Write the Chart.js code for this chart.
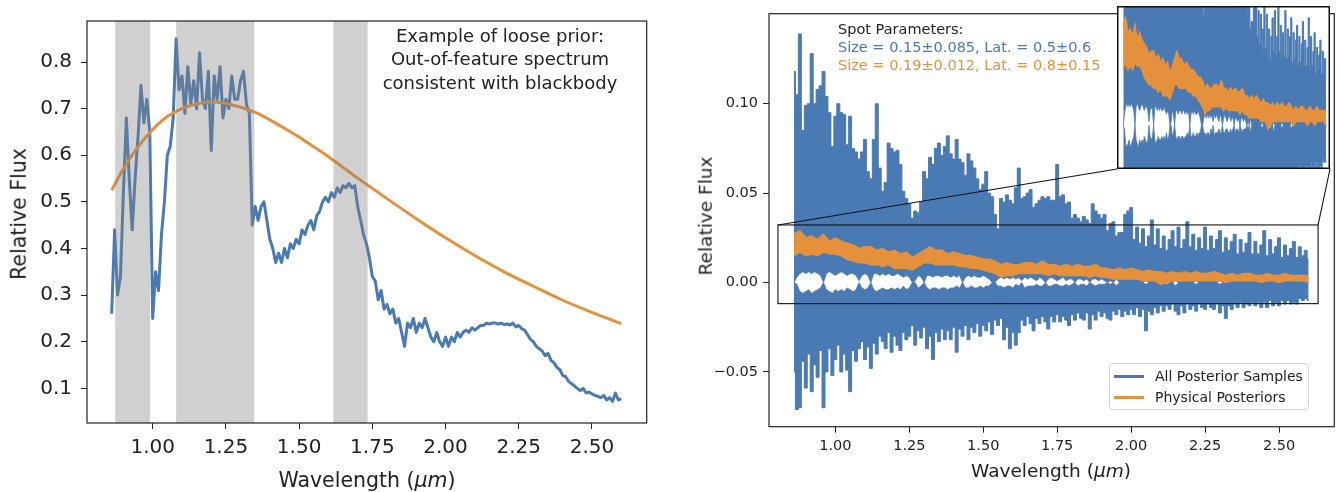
<!DOCTYPE html>
<html><head><meta charset="utf-8">
<script src="https://cdn.jsdelivr.net/npm/chart.js@4.4.1/dist/chart.umd.min.js"></script>
<style>
body{margin:0;background:#fff;width:1341px;height:492px;position:relative;overflow:hidden;font-family:'DejaVu Sans',sans-serif;color:#222}
canvas{position:absolute}
.t{position:absolute;white-space:nowrap;line-height:1}
.c{transform:translate(-50%,-50%)}
.l{transform:translateY(-50%)}
</style></head><body>
<canvas id="c1" width="670" height="492" style="left:0;top:0"></canvas>
<canvas id="c2" width="671" height="492" style="left:670px;top:0"></canvas>
<canvas id="c3" width="213" height="163" style="left:1117px;top:6px"></canvas>

<div class="t" style="left:19px;top:214px;font-size:20.5px;transform:translate(-50%,-50%) rotate(-90deg)">Relative Flux</div>
<div class="t c" style="left:367px;top:480px;font-size:20.5px">Wavelength (<span style="font-style:italic">μm</span>)</div>
<div class="t c" style="left:500px;top:36px;font-size:18px">Example of loose prior:</div>
<div class="t c" style="left:500px;top:59px;font-size:18px">Out-of-feature spectrum</div>
<div class="t c" style="left:500px;top:83px;font-size:18px">consistent with blackbody</div>

<div class="t" style="left:706px;top:216px;font-size:18.5px;transform:translate(-50%,-50%) rotate(-90deg)">Relative Flux</div>
<div class="t c" style="left:1051px;top:471px;font-size:18.5px">Wavelength (<span style="font-style:italic">μm</span>)</div>
<div class="t l" style="left:838px;top:29px;font-size:14.5px;color:#222">Spot Parameters:</div>
<div class="t l" style="left:838px;top:47px;font-size:14.5px;color:#4a7ab3">Size = 0.15±0.085, Lat. = 0.5±0.6</div>
<div class="t l" style="left:838px;top:64.5px;font-size:14.5px;color:#e5913b">Size = 0.19±0.012, Lat. = 0.8±0.15</div>

<div style="position:absolute;left:1109px;top:363px;width:200px;height:47px;border:1px solid #d4d4d4;border-radius:4px;background:rgba(255,255,255,0.85);box-sizing:border-box">
  <div style="position:absolute;left:4px;top:11px;width:30px;height:2.5px;background:#4a7ab3"></div>
  <div class="t l" style="left:45px;top:12px;font-size:14px">All Posterior Samples</div>
  <div style="position:absolute;left:4px;top:32px;width:30px;height:2.5px;background:#e5913b"></div>
  <div class="t l" style="left:45px;top:33px;font-size:14px">Physical Posteriors</div>
</div>

<script>
// ---------- shared wavelength grid (micron) ----------
const wavelengths = [
0.86,0.87,0.88,0.89,0.90,0.91,0.92,0.93,0.94,0.95,
0.96,0.97,0.98,0.99,1.00,1.01,1.02,1.03,1.04,1.05,
1.06,1.07,1.08,1.09,1.10,1.11,1.12,1.13,1.14,1.15,
1.16,1.17,1.18,1.19,1.20,1.21,1.22,1.23,1.24,1.25,
1.26,1.27,1.28,1.29,1.30,1.31,1.32,1.33,1.34,1.35,
1.36,1.37,1.38,1.39,1.40,1.41,1.42,1.43,1.44,1.45,
1.46,1.47,1.48,1.49,1.50,1.51,1.52,1.53,1.54,1.55,
1.56,1.57,1.58,1.59,1.60,1.61,1.62,1.63,1.64,1.65,
1.66,1.67,1.68,1.69,1.70,1.71,1.72,1.73,1.74,1.75,
1.76,1.77,1.78,1.79,1.80,1.81,1.82,1.83,1.84,1.85,
1.86,1.87,1.88,1.89,1.90,1.91,1.92,1.93,1.94,1.95,
1.96,1.97,1.98,1.99,2.00,2.01,2.02,2.03,2.04,2.05,
2.06,2.07,2.08,2.09,2.10,2.11,2.12,2.13,2.14,2.15,
2.16,2.17,2.18,2.19,2.20,2.21,2.22,2.23,2.24,2.25,
2.26,2.27,2.28,2.29,2.30,2.31,2.32,2.33,2.34,2.35,
2.36,2.37,2.38,2.39,2.40,2.41,2.42,2.43,2.44,2.45,
2.46,2.47,2.48,2.49,2.50,2.51,2.52,2.53,2.54,2.55,
2.56,2.57,2.58,2.59,2.60];

// ---------- left panel ----------
const spectrumFlux = [
0.26,0.44,0.30,0.34,0.52,0.68,0.55,0.44,0.55,0.64,
0.75,0.67,0.72,0.65,0.25,0.35,0.31,0.43,0.50,0.60,
0.62,0.68,0.85,0.74,0.77,0.69,0.79,0.71,0.76,0.70,
0.82,0.72,0.70,0.78,0.61,0.77,0.72,0.79,0.68,0.72,
0.70,0.77,0.72,0.72,0.76,0.78,0.71,0.69,0.45,0.49,
0.46,0.49,0.50,0.46,0.42,0.40,0.37,0.39,0.37,0.40,
0.38,0.41,0.40,0.42,0.41,0.44,0.43,0.45,0.46,0.44,
0.47,0.48,0.50,0.51,0.50,0.52,0.51,0.53,0.52,0.535,
0.53,0.54,0.53,0.535,0.49,0.46,0.43,0.41,0.38,0.34,
0.33,0.29,0.31,0.27,0.28,0.26,0.27,0.24,0.25,0.22,
0.19,0.24,0.23,0.25,0.22,0.24,0.23,0.25,0.23,0.21,
0.20,0.22,0.20,0.19,0.21,0.19,0.21,0.20,0.22,0.21,
0.22,0.225,0.22,0.23,0.225,0.23,0.235,0.235,0.24,0.238,
0.24,0.24,0.238,0.24,0.237,0.238,0.236,0.24,0.232,0.235,
0.228,0.225,0.215,0.205,0.20,0.19,0.185,0.18,0.17,0.175,
0.16,0.155,0.145,0.14,0.128,0.125,0.115,0.11,0.105,0.10,
0.095,0.10,0.09,0.092,0.088,0.085,0.083,0.08,0.085,0.075,
0.08,0.072,0.09,0.075,0.078];

const blackbodyWl = [0.86,0.90,0.95,1.00,1.05,1.10,1.15,1.20,1.25,1.30,1.35,1.40,1.45,1.50,1.55,1.60,1.65,1.70,1.75,1.80,1.90,2.00,2.10,2.20,2.30,2.40,2.50,2.60];
const blackbodyFlux = [0.525,0.571,0.618,0.655,0.683,0.700,0.710,0.714,0.711,0.703,0.692,0.676,0.658,0.639,0.618,0.597,0.574,0.551,0.529,0.507,0.464,0.423,0.385,0.350,0.319,0.289,0.263,0.239];

const featureSpans = [[0.872,0.991],[1.080,1.347],[1.617,1.734]];

const xLimits = [0.7757, 2.6868];
const xTicks = [1.00,1.25,1.50,1.75,2.00,2.25,2.50];
const xTickLabels = ['1.00','1.25','1.50','1.75','2.00','2.25','2.50'];
const leftYLimits = [0.0257, 0.888];
const leftYTicks = [0.1,0.2,0.3,0.4,0.5,0.6,0.7,0.8];
const leftYTickLabels = ['0.1','0.2','0.3','0.4','0.5','0.6','0.7','0.8'];

// ---------- right panel ----------
const posteriorUpper = [
0.118,0.105,0.139,0.085,0.099,0.100,0.128,0.100,0.108,0.110,
0.118,0.104,0.095,0.076,0.093,0.100,0.095,0.094,0.077,0.093,
0.075,0.073,0.069,0.073,0.080,0.062,0.058,0.080,0.100,0.064,
0.051,0.056,0.078,0.075,0.073,0.074,0.066,0.051,0.047,0.044,
0.036,0.040,0.039,0.045,0.062,0.058,0.070,0.066,0.075,0.078,
0.071,0.076,0.082,0.072,0.069,0.080,0.069,0.067,0.060,0.072,
0.068,0.064,0.058,0.052,0.055,0.062,0.050,0.048,0.038,0.030,
0.047,0.045,0.049,0.046,0.044,0.053,0.064,0.047,0.048,0.050,
0.052,0.042,0.044,0.046,0.048,0.047,0.048,0.046,0.046,0.066,
0.048,0.049,0.044,0.045,0.036,0.038,0.036,0.034,0.037,0.035,
0.033,0.044,0.040,0.038,0.036,0.038,0.029,0.033,0.034,0.026,
0.028,0.028,0.038,0.040,0.042,0.024,0.031,0.022,0.030,0.020,
0.026,0.035,0.021,0.030,0.019,0.026,0.018,0.024,0.029,0.020,
0.031,0.019,0.024,0.034,0.020,0.027,0.018,0.025,0.019,0.031,
0.018,0.026,0.019,0.024,0.029,0.017,0.025,0.018,0.023,0.027,
0.016,0.024,0.017,0.022,0.028,0.016,0.023,0.016,0.021,0.029,
0.015,0.024,0.016,0.020,0.025,0.014,0.021,0.015,0.019,0.023,
0.014,0.020,0.015,0.018,0.013];

const gapTop = [
0,0.003,0.005,0.006,0.005,0.006,0.005,0.006,0.005,0.004,
0,0.005,0.006,0.005,0.004,0.005,0.006,0.005,0.004,0.005,
0.005,0.004,0.001,0.004,0.005,0.004,0,0.005,0.005,0.004,
0.005,0.004,0.005,0.004,0.004,0.005,0.004,0.003,0.004,0.003,
0,0.001,0.004,0.003,0,0.004,0.004,0.003,0.004,0.004,
0.003,0.004,0.004,0.003,0.004,0.003,0.004,0,0.003,0.004,
0.003,0.004,0.003,0.003,0.004,0.003,0.002,0,0,0.002,
0.003,0.002,0.003,0.002,0.003,0.002,0.003,0.001,0.003,0.002,
0.003,0.002,0.001,0.003,0.002,0,0.002,0.003,0.002,0.001,
0.002,0.003,0.001,0.002,0.002,0,0.002,0.002,0.001,0.002,
0,0.002,0.002,0.001,0.002,0.001,0,0.001,0,0.002,
0,0,0,0,0,0,0,0,0,0.001,
0,0,0,0,0,0,0.001,0,0,0.001,
0,0,0,0,0,0,0.001,0,0,0,
0,0,0,0,0.001,0,0,0,0,0,
0,0,0,0,0,0,0,0,0,0,
0,0,0,0,0,0,0,0,0,0,
0,0,0,0,0];

const gapBottom = [
0,-0.001,-0.005,-0.006,-0.005,-0.004,-0.006,-0.005,-0.004,-0.003,
0,-0.004,-0.005,-0.006,-0.004,-0.005,-0.004,-0.005,-0.003,-0.004,
-0.005,-0.004,0,-0.003,-0.004,-0.003,0,-0.004,-0.005,-0.004,
-0.003,-0.004,-0.004,-0.003,-0.004,-0.003,-0.004,-0.002,-0.004,-0.003,
0,0,-0.003,-0.002,0,-0.003,-0.004,-0.003,-0.003,-0.004,
-0.003,-0.003,-0.004,-0.003,-0.003,-0.002,-0.003,0,-0.003,-0.003,
-0.002,-0.003,-0.003,-0.002,-0.003,-0.002,-0.002,0,0,-0.002,
-0.002,-0.003,-0.002,-0.002,-0.003,-0.001,-0.002,0,-0.003,-0.002,
-0.002,-0.002,-0.001,-0.002,-0.002,0,-0.002,-0.002,-0.001,-0.001,
-0.002,-0.002,-0.001,-0.002,-0.001,0,-0.002,-0.001,-0.001,-0.002,
0,-0.001,-0.002,-0.001,-0.001,-0.001,0,-0.001,0,-0.002,
0,0,0,0,0,0,0,0,0,-0.001,
0,0,0,0,0,0,-0.001,0,0,-0.002,
0,0,0,0,0,0,-0.001,0,0,0,
0,0,0,0,-0.001,0,0,0,0,0,
0,0,0,0,0,0,0,0,0,0,
0,0,0,0,0,0,0,0,0,0,
0,0,0,0,0];

const posteriorLower = [
-0.050,-0.071,-0.070,-0.044,-0.059,-0.040,-0.061,-0.046,-0.053,-0.038,
-0.070,-0.050,-0.037,-0.052,-0.043,-0.035,-0.050,-0.040,-0.049,-0.061,
-0.038,-0.044,-0.037,-0.033,-0.043,-0.036,-0.048,-0.034,-0.040,-0.030,
-0.033,-0.037,-0.028,-0.039,-0.030,-0.035,-0.038,-0.028,-0.032,-0.030,
-0.024,-0.035,-0.027,-0.031,-0.025,-0.037,-0.030,-0.043,-0.028,-0.033,
-0.026,-0.032,-0.027,-0.032,-0.025,-0.039,-0.026,-0.030,-0.024,-0.032,
-0.025,-0.028,-0.023,-0.030,-0.024,-0.027,-0.022,-0.029,-0.021,-0.024,
-0.020,-0.032,-0.025,-0.037,-0.028,-0.035,-0.028,-0.021,-0.024,-0.019,
-0.023,-0.027,-0.020,-0.023,-0.019,-0.022,-0.026,-0.019,-0.022,-0.018,
-0.022,-0.019,-0.021,-0.024,-0.018,-0.021,-0.017,-0.020,-0.021,-0.017,
-0.026,-0.018,-0.021,-0.016,-0.019,-0.017,-0.020,-0.021,-0.016,-0.018,
-0.015,-0.019,-0.016,-0.018,-0.015,-0.018,-0.014,-0.019,-0.015,-0.027,
-0.016,-0.018,-0.014,-0.017,-0.013,-0.016,-0.013,-0.015,-0.012,-0.016,
-0.018,-0.013,-0.017,-0.012,-0.015,-0.013,-0.016,-0.012,-0.014,-0.015,
-0.012,-0.014,-0.015,-0.012,-0.017,-0.013,-0.020,-0.013,-0.015,-0.012,
-0.014,-0.011,-0.014,-0.012,-0.013,-0.011,-0.013,-0.011,-0.014,-0.011,
-0.014,-0.010,-0.013,-0.011,-0.013,-0.010,-0.012,-0.010,-0.012,-0.011,
-0.012,-0.009,-0.010,-0.009,-0.010];

const physicalWl = [
0.86,0.88,0.90,0.92,0.94,0.96,0.98,1.00,1.02,1.04,
1.06,1.08,1.10,1.12,1.14,1.16,1.18,1.20,1.22,1.24,
1.26,1.28,1.30,1.32,1.34,1.36,1.38,1.40,1.42,1.44,
1.46,1.48,1.50,1.52,1.54,1.56,1.58,1.60,1.62,1.64,
1.66,1.68,1.70,1.72,1.74,1.76,1.78,1.80,1.82,1.84,
1.86,1.88,1.90,1.92,1.94,1.96,1.98,2.00,2.02,2.04,
2.06,2.08,2.10,2.12,2.14,2.16,2.18,2.20,2.22,2.24,
2.26,2.28,2.30,2.32,2.34,2.36,2.38,2.40,2.42,2.44,
2.46,2.48,2.50,2.52,2.54,2.56,2.58,2.60];
const physicalHigh = [
0.027,0.029,0.025,0.026,0.024,0.027,0.023,0.025,0.023,0.022,
0.021,0.019,0.020,0.020,0.018,0.019,0.017,0.018,0.016,0.017,
0.014,0.016,0.018,0.020,0.018,0.018,0.016,0.017,0.016,0.015,
0.015,0.014,0.013,0.013,0.012,0.010,0.011,0.010,0.010,0.011,
0.011,0.010,0.012,0.010,0.010,0.009,0.010,0.009,0.010,0.009,
0.009,0.010,0.008,0.008,0.007,0.008,0.007,0.008,0.007,0.006,
0.007,0.006,0.006,0.005,0.006,0.005,0.006,0.005,0.006,0.005,
0.005,0.006,0.005,0.004,0.005,0.004,0.005,0.005,0.004,0.004,
0.005,0.004,0.004,0.005,0.004,0.004,0.004,0.004];
const physicalLow = [
0.015,0.017,0.015,0.016,0.015,0.017,0.016,0.016,0.015,0.013,
0.012,0.011,0.011,0.010,0.010,0.009,0.010,0.008,0.008,0.008,
0.007,0.009,0.011,0.011,0.010,0.010,0.010,0.010,0.009,0.009,
0.008,0.008,0.007,0.006,0.005,0.003,0.004,0.004,0.005,0.005,
0.005,0.005,0.005,0.004,0.005,0.004,0.004,0.004,0.004,0.004,
0.003,0.004,0.003,0.003,0.002,0.002,0.002,0.002,0.002,0.001,
0.001,0.001,-0.001,0.000,0.001,0.001,0.001,0.001,0.001,0.001,
0.001,0.001,0.001,0.000,0.001,0.001,0.001,0.001,0.001,0.000,
0.001,0.001,0.000,0.001,0.001,0.001,0.001,0.000];

const rightYLimits = [-0.0806, 0.1503];
const rightYTicks = [-0.05, 0.00, 0.05, 0.10];
const rightYTickLabels = ['\u22120.05','0.00','0.05','0.10'];
const insetXLimits = [0.806, 2.632];
const insetYLimits = [-0.0118, 0.0322];

// ---------- styling ----------
const BLUE = '#4a7ab3', ORANGE = '#e5913b', INK = '#222';
Chart.defaults.font.family = "'DejaVu Sans', sans-serif";
Chart.defaults.color = INK;
Chart.defaults.animation = false;

const pts = (xs, ys) => xs.map((x, i) => ({x, y: ys[i]}));

const framePlugin = {
  id: 'frame',
  afterDraw(chart) {
    const {ctx, chartArea: a} = chart;
    ctx.save();
    ctx.strokeStyle = INK; ctx.lineWidth = 1.2;
    ctx.strokeRect(a.left, a.top, a.right - a.left, a.bottom - a.top);
    ctx.restore();
  }
};

const spansPlugin = {
  id: 'spans',
  afterDatasetsDraw(chart) {
    const {ctx, chartArea: a, scales: {x}} = chart;
    ctx.save();
    ctx.beginPath(); ctx.rect(a.left, a.top, a.right - a.left, a.bottom - a.top); ctx.clip();
    ctx.fillStyle = 'rgba(128,128,128,0.37)';
    featureSpans.forEach(([s, e]) => {
      const x0 = x.getPixelForValue(s), x1 = x.getPixelForValue(e);
      ctx.fillRect(x0, a.top, x1 - x0, a.bottom - a.top);
    });
    ctx.restore();
  }
};

function axisX(fontSize, pad, height) {
  return {
    type: 'linear', min: xLimits[0], max: xLimits[1],
    afterBuildTicks: s => { s.ticks = xTicks.map(v => ({value: v})); },
    afterFit: s => { s.height = height; },
    ticks: {font: {size: fontSize}, padding: pad, color: INK, maxRotation: 0, autoSkip: false,
            callback: (v, i) => xTickLabels[i]},
    grid: {drawOnChartArea: false, drawTicks: true, tickLength: 6, color: INK, lineWidth: 1},
    border: {display: false}
  };
}

// Left chart
new Chart(document.getElementById('c1'), {
  type: 'line',
  data: {datasets: [
    {label: 'Spectrum', data: pts(wavelengths, spectrumFlux), borderColor: BLUE, borderWidth: 3,
     pointRadius: 0, tension: 0, borderJoinStyle: 'round', fill: false, order: 1},
    {label: 'Blackbody', data: pts(blackbodyWl, blackbodyFlux), borderColor: ORANGE, borderWidth: 3,
     pointRadius: 0, cubicInterpolationMode: 'monotone', fill: false, order: 0}
  ]},
  options: {
    responsive: false, devicePixelRatio: 1,
    layout: {padding: {left: 0, top: 5, right: 23.3, bottom: 0}},
    plugins: {legend: {display: false}, tooltip: {enabled: false}},
    scales: {
      x: axisX(20, 7, 69),
      y: {
        type: 'linear', min: leftYLimits[0], max: leftYLimits[1],
        afterBuildTicks: s => { s.ticks = leftYTicks.map(v => ({value: v})); },
        afterFit: s => { s.width = 87; },
        ticks: {font: {size: 20}, padding: 9, color: INK, callback: (v, i) => leftYTickLabels[i]},
        grid: {drawOnChartArea: false, drawTicks: true, tickLength: 6, color: INK, lineWidth: 1},
        border: {display: false}
      }
    }
  },
  plugins: [spansPlugin, framePlugin]
});

function posteriorDatasets(lw) {
  return [
    {label: 'All Posterior Samples', data: pts(wavelengths, posteriorUpper), borderColor: BLUE, backgroundColor: BLUE,
     borderWidth: lw, pointRadius: 0, stepped: 'middle', fill: {target: 1}, order: 1},
    {label: 'gapTop', data: pts(wavelengths, gapTop), borderColor: BLUE, borderWidth: 0.8, pointRadius: 0, fill: false, order: 1},
    {label: 'gapBottom', data: pts(wavelengths, gapBottom), borderColor: BLUE, backgroundColor: BLUE, borderWidth: 0.8,
     pointRadius: 0, fill: {target: 3}, order: 1},
    {label: 'lower', data: pts(wavelengths, posteriorLower), borderColor: BLUE, borderWidth: lw, pointRadius: 0,
     stepped: 'middle', fill: false, order: 1},
    {label: 'Physical Posteriors', data: pts(physicalWl, physicalHigh), borderColor: ORANGE, backgroundColor: ORANGE,
     borderWidth: 1.5, pointRadius: 0, fill: {target: 5}, order: 0},
    {label: 'physLow', data: pts(physicalWl, physicalLow), borderColor: ORANGE, borderWidth: 1.5, pointRadius: 0,
     fill: false, order: 0}
  ];
}

const insetPlugin = {
  id: 'insetMark',
  afterDraw(chart) {
    const {ctx, scales: {x, y}} = chart;
    const x0 = x.getPixelForValue(insetXLimits[0]), x1 = x.getPixelForValue(insetXLimits[1]);
    const y0 = y.getPixelForValue(insetYLimits[1]), y1 = y.getPixelForValue(insetYLimits[0]);
    // inset box position on this canvas (layout, not data)
    const bl = {x: 1117 - 670, y: 6 + 163}, br = {x: 1117 - 670 + 213, y: 6 + 163};
    ctx.save();
    ctx.strokeStyle = '#111'; ctx.lineWidth = 1.1;
    ctx.strokeRect(x0, y0, x1 - x0, y1 - y0);
    ctx.beginPath();
    ctx.moveTo(x0, y0); ctx.lineTo(bl.x, bl.y);
    ctx.moveTo(x1, y0); ctx.lineTo(br.x, br.y);
    ctx.stroke();
    ctx.restore();
  }
};

// Right chart
new Chart(document.getElementById('c2'), {
  type: 'line',
  data: {datasets: posteriorDatasets(1)},
  options: {
    responsive: false, devicePixelRatio: 1,
    layout: {padding: {left: 0, top: 5.7, right: 6.7, bottom: 0}},
    plugins: {legend: {display: false}, tooltip: {enabled: false}},
    scales: {
      x: axisX(14.5, 5, 65.3),
      y: {
        type: 'linear', min: rightYLimits[0], max: rightYLimits[1],
        afterBuildTicks: s => { s.ticks = rightYTicks.map(v => ({value: v})); },
        afterFit: s => { s.width = 99; },
        ticks: {font: {size: 14.5}, padding: 5, color: INK, callback: (v, i) => rightYTickLabels[i]},
        grid: {drawOnChartArea: false, drawTicks: true, tickLength: 6, color: INK, lineWidth: 1},
        border: {display: false}
      }
    }
  },
  plugins: [framePlugin, insetPlugin]
});

// Inset (zoom of the boxed region)
new Chart(document.getElementById('c3'), {
  type: 'line',
  data: {datasets: posteriorDatasets(1)},
  options: {
    responsive: false, devicePixelRatio: 1,
    layout: {padding: 0},
    plugins: {legend: {display: false}, tooltip: {enabled: false}},
    scales: {
      x: {type: 'linear', min: insetXLimits[0], max: insetXLimits[1], display: false},
      y: {type: 'linear', min: insetYLimits[0], max: insetYLimits[1], display: false}
    }
  },
  plugins: [{
    id: 'bg', beforeDraw(chart) {
      const {ctx, width, height} = chart;
      ctx.save(); ctx.fillStyle = '#fff'; ctx.fillRect(0, 0, width, height); ctx.restore();
    }
  }, {
    id: 'insetFrame', afterDraw(chart) {
      const {ctx, width, height} = chart;
      ctx.save(); ctx.strokeStyle = '#111'; ctx.lineWidth = 1.5;
      ctx.strokeRect(0.75, 0.75, width - 1.5, height - 1.5); ctx.restore();
    }
  }]
});
</script>
</body></html>
